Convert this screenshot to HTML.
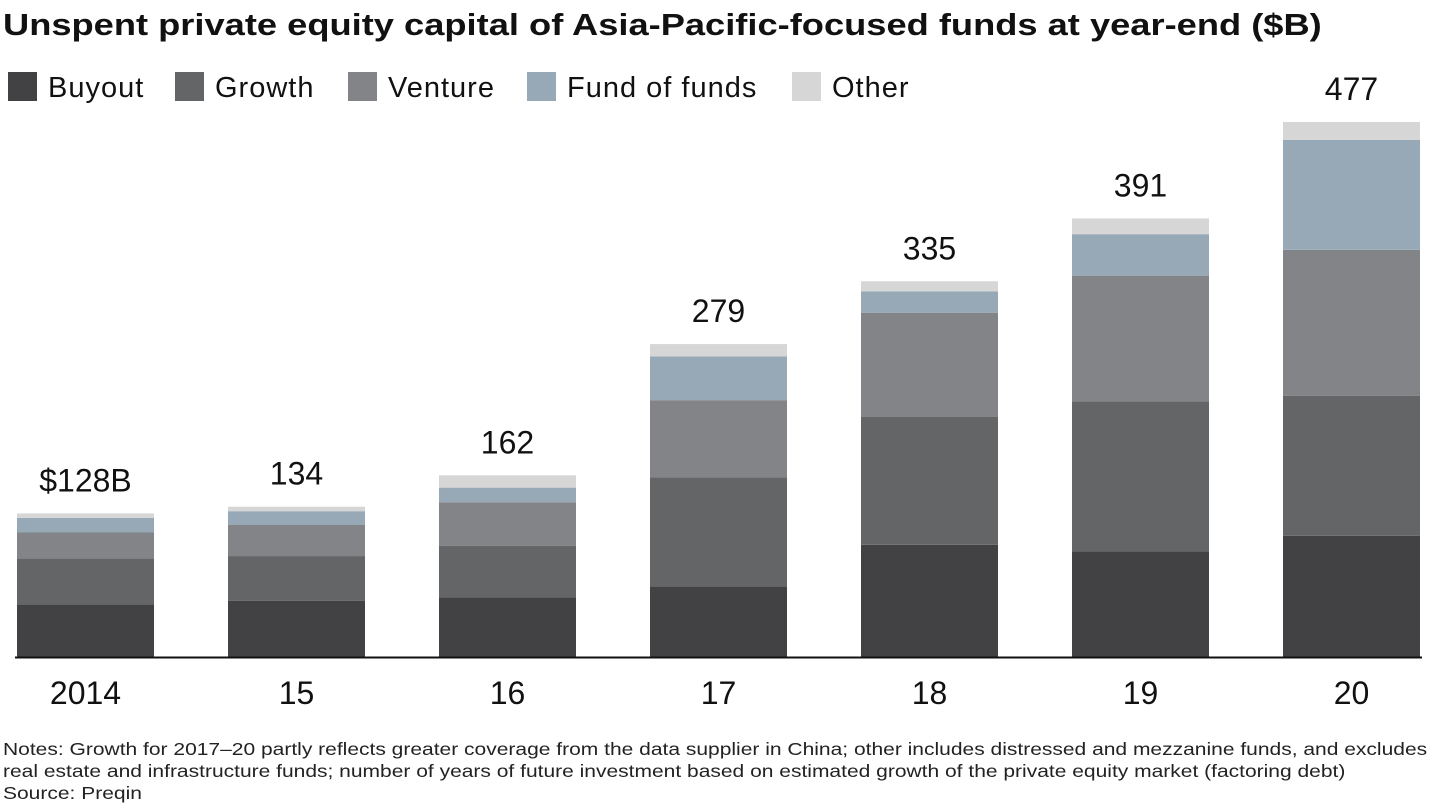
<!DOCTYPE html>
<html><head><meta charset="utf-8">
<style>
body{margin:0;background:#fff;font-family:"Liberation Sans",sans-serif;color:#111;}
#wrap{position:relative;width:1440px;height:810px;overflow:hidden;}
.title{position:absolute;left:3px;top:7px;font-size:31px;font-weight:bold;white-space:nowrap;transform-origin:0 0;transform:scaleX(1.17);}
.notes{position:absolute;left:3px;top:738px;font-size:17.5px;line-height:22px;color:#222;white-space:nowrap;transform-origin:0 0;transform:scaleX(1.2);}
</style></head>
<body><div id="wrap">
<div class="title">Unspent private equity capital of Asia-Pacific-focused funds at year-end ($B)</div>
<svg id="svg" width="1440" height="810" style="position:absolute;left:0;top:0"></svg>
<div class="notes">Notes: Growth for 2017–20 partly reflects greater coverage from the data supplier in China; other includes distressed and mezzanine funds, and excludes<br>real estate and infrastructure funds; number of years of future investment based on estimated growth of the private equity market (factoring debt)<br>Source: Preqin</div>
</div>
<script>
const categories=["2014","15","16","17","18","19","20"];
const totals=["$128B","134","162","279","335","391","477"];
const seriesNames=["Buyout","Growth","Venture","Fund of funds","Other"];
const buyout=[47,50,53,63,100,94,108];
const growth=[41,40,46,97,114,134,125];
const venture=[23,28,39,69,93,112,130];
const fundOfFunds=[13,12,13,39,19,37,98];
const other=[4,4,11,11,9,14,16];
const series=[buyout,growth,venture,fundOfFunds,other];
const colors=["#424244","#646567","#838487","#97a8b6","#d6d6d6"];
const NS="http://www.w3.org/2000/svg";
const svg=document.getElementById('svg');
const base=657, scale=535/477, x0=17, pitch=211, bw=137;
const yOf=v=>base-v*scale;
const xOf=i=>x0+i*pitch;
function mk(t,a){const e=document.createElementNS(NS,t);for(const k in a)e.setAttribute(k,a[k]);svg.appendChild(e);return e;}
const lx=[8,175,348,527,792];
seriesNames.forEach((n,i)=>{
 const r=mk('rect',{x:lx[i],y:72,width:29,height:29,fill:colors[i]});
 
 
 const t=mk('text',{x:lx[i]+40,y:97,'font-size':29,fill:'#111','letter-spacing':1});
 t.textContent=n;
 
 
});
categories.forEach((c,i)=>{
 let cum=0;
 series.forEach((s,k)=>{
  const y1=yOf(cum), y2=yOf(cum+s[i]);
  const r=mk('rect',{x:xOf(i),y:y2,width:bw,height:y1-y2,fill:colors[k]});
  
  
  cum+=s[i];
 });
 const t=mk('text',{x:xOf(i)+bw/2,y:yOf(cum)-22,'font-size':32,'text-anchor':'middle',fill:'#111'});
 t.textContent=totals[i];
 
 
 const xl=mk('text',{x:xOf(i)+bw/2,y:704,'font-size':32,'text-anchor':'middle',fill:'#111'});
 xl.textContent=c;
 
 
});
const ax=mk('line',{x1:15,x2:1422,y1:base+0.5,y2:base+0.5,stroke:'#111','stroke-width':2});


</script>
</body></html>
